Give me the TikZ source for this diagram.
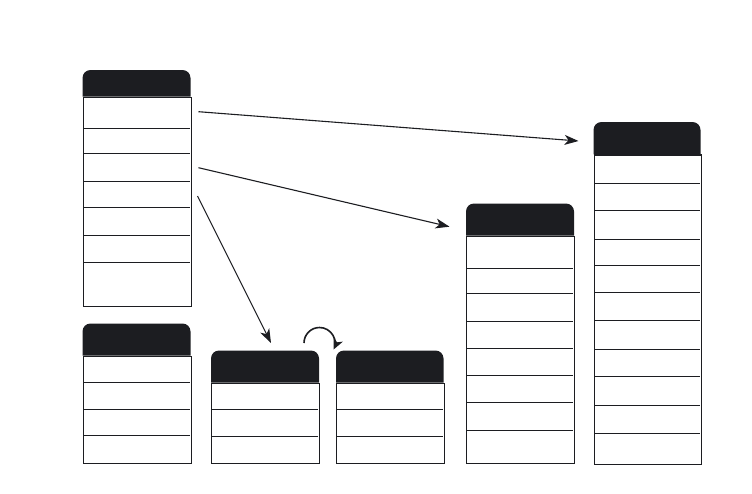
\documentclass[tikz,border=0pt]{standalone}
\usetikzlibrary{arrows.meta}
\definecolor{hdr}{HTML}{1C1D21}
\tikzset{
  body/.style={draw=hdr, line width=1.3pt, fill=white, inner sep=0pt, anchor=north west},
  rowline/.style={draw=hdr, line width=0.8pt},
  hdrfill/.style={fill=hdr},
  arr/.style={draw=hdr, line width=1.1pt, -{Stealth[length=14pt,width=10pt,inset=4pt]}}
}
% #1 name, #2 left, #3 right, #4 top, #5 header bottom, #6 bottom, #7 row lines
\newcommand\dbtable[7]{%
  \fill[hdrfill] (#2,#5) [rounded corners=8pt] -- (#2,#4) -- (#3,#4) [sharp corners] -- (#3,#5) -- cycle;
  \pgfmathsetmacro\tw{#3-#2}\pgfmathsetmacro\th{#6-#5}%
  \node[body, minimum width=\tw pt, minimum height=\th pt] (#1) at (#2,#5) {};
  \foreach \yy in {#7} {\draw[rowline] (#2+1,\yy) -- (#3-1,\yy);}
}
\begin{document}
\begin{tikzpicture}[x=1pt,y=-1pt]
\useasboundingbox (0,0) rectangle (752,493);
\dbtable{ta}{82.5}{190.5}{70}{96.5}{306}{128.3,153.3,181,207.7,235,262.3}
\dbtable{tb}{82.5}{190.5}{323.5}{355.5}{463}{382.3,409.5,435.5}
\dbtable{tc}{211}{319}{350.5}{382.5}{463}{409.3,436.3}
\dbtable{td}{336}{443.5}{350.5}{382.5}{463}{409.3,436.3}
\dbtable{te}{466}{574}{203.5}{235.5}{463}{268.3,293.3,321.3,348.3,375.3,402.3,430.3}
\dbtable{tf}{593.5}{700.5}{122}{154.3}{464}{183.3,210,239.3,265.3,292.3,320.3,349.3,376.3,405.3,433.3}
\coordinate (s1) at (198.5,111.7);
\coordinate (e1) at (578.5,141);
\coordinate (s2) at (198.5,167.7);
\coordinate (e2) at (449.5,226.7);
\coordinate (s3) at (197.5,196);
\coordinate (e3) at (271,343);
\coordinate (c1) at (304,343);
\draw[arr] (s1) -- (e1);
\draw[arr] (s2) -- (e2);
\draw[arr] (s3) -- (e3);
\draw[draw=hdr, line width=1.6pt, -{Stealth[length=11pt,width=10pt,inset=3pt]}] (c1) arc (180:385:15.5);
\end{tikzpicture}
\end{document}
